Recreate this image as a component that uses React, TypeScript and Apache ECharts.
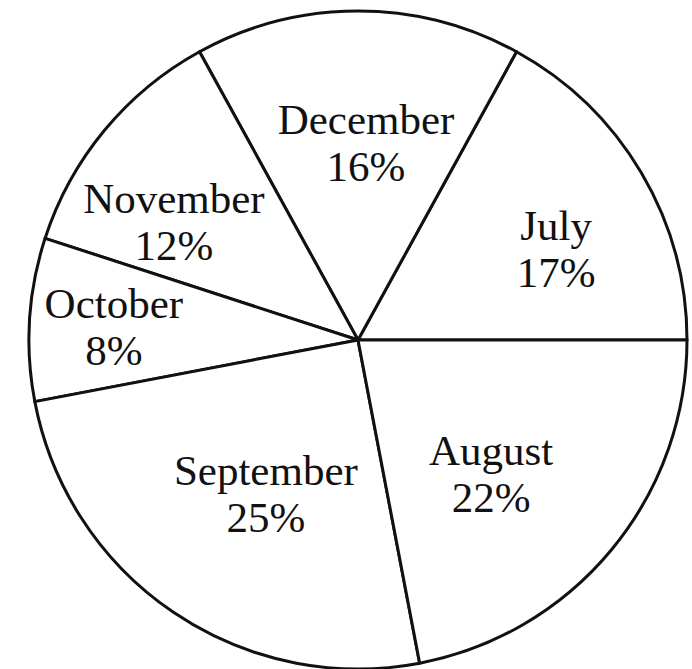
import React, { useEffect, useRef } from "react";
import * as echarts from "echarts";

const months = ["July", "December", "November", "October", "September", "August"];
const shares = [17, 16, 12, 8, 25, 22];

// label nudges (px) relative to ECharts' default inside position
const labelNudgeX = [54, 8, -55, -77, 2, 4];
const labelNudgeY = [-6, -30, -11, -2, 15, 27];

export default function App() {
  const ref = useRef<HTMLDivElement>(null);
  useEffect(() => {
    document.body.style.margin = "0";
    const chart = echarts.init(ref.current!, undefined, { renderer: "svg" });
    chart.setOption({
      animation: false,
      backgroundColor: "#ffffff",
      series: [
        {
          type: "pie",
          center: [358, 340],
          radius: 329,
          startAngle: 0,
          clockwise: false,
          silent: true,
          emphasis: { disabled: true },
          itemStyle: { color: "#ffffff", borderColor: "#111111", borderWidth: 3 },
          label: {
            show: true,
            position: "inside",
            formatter: "{b}\n{c}%",
            fontFamily: "Liberation Serif",
            fontSize: 43,
            lineHeight: 47,
            color: "#111111",
            align: "center",
          },
          labelLine: { show: false },
          labelLayout: (p: any) => ({ dx: labelNudgeX[p.dataIndex], dy: labelNudgeY[p.dataIndex] }),
          data: months.map((m, i) => ({ name: m, value: shares[i] })),
        },
      ],
    });
    return () => chart.dispose();
  }, []);
  return <div ref={ref} style={{ width: 692, height: 669 }} />;
}
